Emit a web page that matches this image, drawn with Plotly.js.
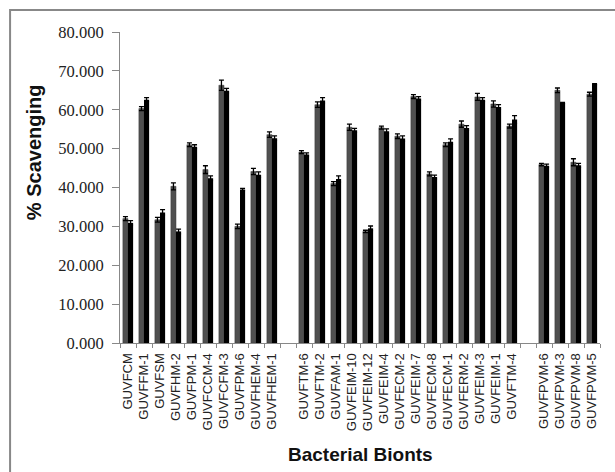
<!DOCTYPE html>
<html>
<head>
<meta charset="utf-8">
<script src="https://cdn.plot.ly/plotly-3.0.1.min.js"></script>
<style>html,body{margin:0;padding:0;background:#fff;} #chart{width:615px;height:472px;}</style>
</head>
<body>
<div id="chart"></div>
<script>
// Category groups (blank slots separate groups on the axis)
const group1 = ["GUVFCM","GUVFFM-1","GUVFSM","GUVFHM-2","GUVFPM-1","GUVFCCM-4","GUVFCFM-3","GUVFPM-6","GUVFHEM-4","GUVFHEM-1"];
const group2 = ["GUVFTM-6","GUVFTM-2","GUVFAM-1","GUVFEIM-10","GUVFEIM-12","GUVFEIM-4","GUVFECM-2","GUVFEIM-7","GUVFECM-8","GUVFECM-1","GUVFERM-2","GUVFEIM-3","GUVFEIM-1","GUVFTM-4"];
const group3 = ["GUVFPVM-6","GUVFPVM-3","GUVFPVM-8","GUVFPVM-5"];

// Series A (dark grey bars) and B (black bars), % scavenging
const seriesA1 = [32.0,60.3,31.7,40.3,51.0,44.6,66.3,30.0,44.1,53.6];
const seriesA2 = [49.1,61.3,41.0,55.5,28.7,55.4,53.2,63.4,43.5,51.0,56.3,63.3,61.5,55.8];
const seriesA3 = [45.9,65.0,46.5,64.0];
const seriesB1 = [30.9,62.6,33.6,28.7,50.5,42.4,64.9,39.5,43.3,52.7];
const seriesB2 = [48.5,62.4,42.2,54.7,29.5,54.5,52.6,62.9,42.7,51.8,55.3,62.6,60.7,57.5];
const seriesB3 = [45.6,61.8,45.7,66.6];

const errA1 = [0.5,0.5,0.6,0.9,0.5,1.0,1.3,0.6,0.8,0.7];
const errA2 = [0.4,0.7,0.5,0.8,0.3,0.4,0.6,0.5,0.5,0.5,0.8,0.9,0.8,0.5];
const errA3 = [0.3,0.6,0.9,0.5];
const errB1 = [0.6,0.5,0.7,0.6,0.5,0.6,0.6,0.3,0.7,0.6];
const errB2 = [0.4,0.7,0.8,0.5,0.6,0.6,0.7,0.5,0.5,0.7,0.6,0.5,0.6,1.0];
const errB3 = [0.4,0.1,0.5,0.1];

const gap1 = " ", gap2 = "  ";
const cats = [...group1, gap1, ...group2, gap2, ...group3];
const yA = [...seriesA1, null, ...seriesA2, null, ...seriesA3];
const yB = [...seriesB1, null, ...seriesB2, null, ...seriesB3];
const eA = [...errA1, null, ...errA2, null, ...errA3];
const eB = [...errB1, null, ...errB2, null, ...errB3];

const traces = [
  {type:'bar', x:cats, y:yA, name:'A', marker:{color:'#505050', line:{color:'#3a3a3a', width:0.5}},
   error_y:{type:'data', array:eA, visible:true, color:'#000', thickness:1.3, width:2.5}},
  {type:'bar', x:cats, y:yB, name:'B', marker:{color:'#000000'},
   error_y:{type:'data', array:eB, visible:true, color:'#000', thickness:1.3, width:2.5}}
];

const layout = {
  width:615, height:472,
  margin:{l:120, r:15, t:32, b:129},
  paper_bgcolor:'#fff', plot_bgcolor:'#fff',
  showlegend:false,
  barmode:'group', bargap:0.36, bargroupgap:0,
  font:{family:'Arial, Liberation Sans, sans-serif', color:'#222'},
  xaxis:{
    type:'category', categoryorder:'array', categoryarray:cats,
    showline:true, linecolor:'#888', linewidth:1,
    ticks:'outside', tickson:'boundaries', ticklen:4, tickcolor:'#888',
    ticklabelstandoff:4,
    tickangle:-90, tickfont:{family:'Arial, Liberation Sans, sans-serif', size:13, color:'#222'},
    showgrid:false, zeroline:false, automargin:false
  },
  yaxis:{
    range:[0,80], dtick:10, tickformat:'.3f',
    showline:true, linecolor:'#888', linewidth:1,
    ticks:'outside', ticklen:7, tickcolor:'#888',
    ticklabelstandoff:5,
    tickfont:{family:'Liberation Serif, Times New Roman, serif', size:16.5, color:'#222'},
    showgrid:false, zeroline:false, automargin:false
  },
  annotations:[
    {text:'<b>Bacterial Bionts</b>', xref:'paper', yref:'paper', x:0.5, y:-0.36,
     xanchor:'center', yanchor:'middle', showarrow:false,
     font:{family:'Arial, Liberation Sans, sans-serif', size:19, color:'#111'}},
    {text:'<b>% Scavenging</b>', xref:'paper', yref:'paper', x:-0.179, y:0.614,
     xanchor:'center', yanchor:'middle', showarrow:false, textangle:-90,
     font:{family:'Arial, Liberation Sans, sans-serif', size:20, color:'#111'}}
  ],
  shapes:[{type:'rect', xref:'paper', yref:'paper', x0:-0.229, x1:1.1, y0:-0.5, y1:1.071,
           line:{color:'#888', width:2}, fillcolor:'rgba(0,0,0,0)', layer:'below'}]
};

Plotly.newPlot('chart', traces, layout, {staticPlot:true, displayModeBar:false});
</script>
</body>
</html>
